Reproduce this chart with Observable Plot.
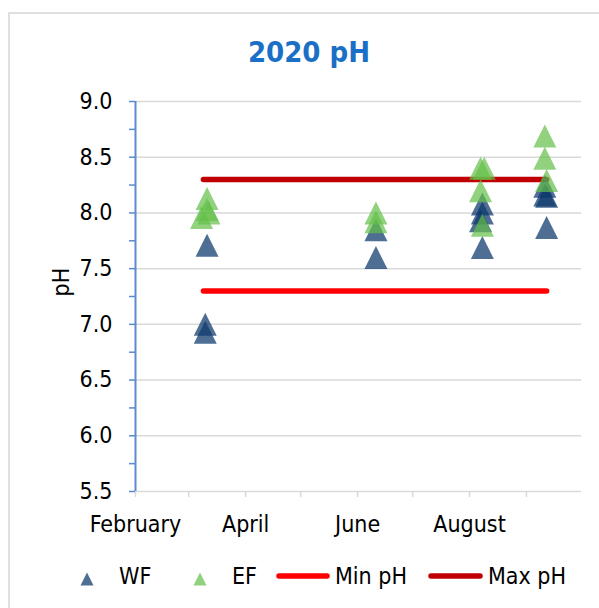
<!DOCTYPE html>
<html>
<head>
<meta charset="utf-8">
<script src="https://cdn.jsdelivr.net/npm/d3@7"></script>
<script src="https://cdn.jsdelivr.net/npm/@observablehq/plot@0.6"></script>
<style>
  html, body { margin: 0; padding: 0; background: #fff; }
  svg { display: block; }
</style>
</head>
<body>
<div id="chart"></div>
<script>
// ---- data ----
const wfDates  = ["2020-03-11","2020-03-10","2020-03-10","2020-06-11","2020-06-11","2020-08-08","2020-08-08","2020-08-07","2020-08-08","2020-09-11","2020-09-11","2020-09-12","2020-09-12"];
const wfValues = [7.71, 7.00, 6.93, 7.85, 7.60, 8.08, 8.00, 7.93, 7.69, 8.24, 8.16, 8.15, 7.87];
const efDates  = ["2020-03-08","2020-03-11","2020-03-11","2020-03-12","2020-06-11","2020-06-11","2020-08-07","2020-08-09","2020-08-07","2020-08-08","2020-09-11","2020-09-11","2020-09-12"];
const efValues = [7.96, 8.13, 8.03, 8.00, 8.00, 7.92, 8.40, 8.40, 8.20, 7.89, 8.69, 8.49, 8.29];
const limitDates = ["2020-03-09", "2020-09-12"];
const minPH = [7.3, 7.3];
const maxPH = [8.3, 8.3];
const yTicks = [5.5, 6.0, 6.5, 7.0, 7.5, 8.0, 8.5, 9.0];
const yMinorTicks = [5.5, 5.75, 6.0, 6.25, 6.5, 6.75, 7.0, 7.25, 7.5, 7.75, 8.0, 8.25, 8.5, 8.75, 9.0];
const monthTicks = ["2020-02-01","2020-03-01","2020-04-01","2020-05-01","2020-06-01","2020-07-01","2020-08-01","2020-09-01"];
const labelDates = ["2020-02-01","2020-04-01","2020-06-01","2020-08-01"];
const labelTexts = ["February","April","June","August"];
const xDomain = ["2020-02-01", "2020-10-01"];
const seriesNames = ["WF", "EF", "Min pH", "Max pH"];
const titleText = "2020 pH";
const yLabel = "pH";

// ---- styling ----
const FONT = "'DejaVu Sans Condensed', 'DejaVu Sans', sans-serif";
const FS = 23;
const WF_COLOR = "#0e386c", WF_OPACITY = 0.73;
const EF_COLOR = "#64bf48", EF_OPACITY = 0.7;
const MIN_COLOR = "#ff0000", MAX_COLOR = "#c00000";
const AXIS_BLUE = "#5b8bd0", GRID = "#d9d9d9";

const triangle = {
  draw(context, size) {
    const h = Math.sqrt(size / Math.PI);
    context.moveTo(0, -h);
    context.lineTo(h, h);
    context.lineTo(-h, h);
    context.closePath();
  }
};

const wf = wfDates.map((d, i) => ({date: new Date(d), value: wfValues[i]}));
const ef = efDates.map((d, i) => ({date: new Date(d), value: efValues[i]}));
const limits = limitDates.map((d, i) => ({date: new Date(d), min: minPH[i], max: maxPH[i]}));
const labelMap = new Map(labelDates.map((d, i) => [+new Date(d), labelTexts[i]]));

const chart = Plot.plot({
  width: 599,
  height: 608,
  marginLeft: 135,
  marginRight: 18,
  marginTop: 101,
  marginBottom: 117,
  style: {fontFamily: FONT, fontSize: FS + "px", background: "#fff", color: "#000", overflow: "visible"},
  x: {type: "utc", domain: xDomain.map(d => new Date(d))},
  y: {domain: [5.5, 9]},
  marks: [
    Plot.gridY(yTicks, {stroke: GRID, strokeOpacity: 1, strokeWidth: 1.5}),
    Plot.axisX(monthTicks.map(d => new Date(d)), {tickSize: 6, stroke: GRID, strokeWidth: 1.5, tickFormat: () => "", label: null}),
    Plot.axisX(labelDates.map(d => new Date(d)), {tickSize: 0, tickPadding: 24, tickFormat: d => labelMap.get(+d), label: null, fontSize: FS, fill: "#000"}),
    Plot.axisY(yMinorTicks, {tickSize: 6, stroke: AXIS_BLUE, strokeWidth: 1.5, tickFormat: () => "", label: null}),
    Plot.axisY(yTicks, {tickSize: 0, tickPadding: 23, tickFormat: d3.format(".1f"), label: null, fontSize: FS, fill: "#000"}),
    Plot.ruleX([new Date(xDomain[0])], {stroke: AXIS_BLUE, strokeWidth: 2}),
    Plot.text([yLabel], {frameAnchor: "left", dx: -74, rotate: -90, fontSize: FS, fill: "#000"}),
    Plot.line(limits, {x: "date", y: "min", stroke: MIN_COLOR, strokeWidth: 5.5, strokeLinecap: "round"}),
    Plot.line(limits, {x: "date", y: "max", stroke: MAX_COLOR, strokeWidth: 5.5, strokeLinecap: "round"}),
    Plot.dot(wf, {x: "date", y: "value", symbol: triangle, r: 11.5, fill: WF_COLOR, fillOpacity: WF_OPACITY, stroke: "none"}),
    Plot.dot(ef, {x: "date", y: "value", symbol: triangle, r: 11.5, fill: EF_COLOR, fillOpacity: EF_OPACITY, stroke: "none"})
  ]
});

const svg = d3.select(chart);
// outer chart-area border
svg.insert("rect", ":first-child")
  .attr("x", 9).attr("y", 13).attr("width", 640).attr("height", 640)
  .attr("fill", "none").attr("stroke", GRID).attr("stroke-width", 1.6);

// title
svg.append("text")
  .attr("x", 309).attr("y", 52).attr("dy", "0.36em")
  .attr("text-anchor", "middle")
  .attr("font-family", FONT).attr("font-size", 29).attr("font-weight", "bold")
  .attr("fill", "#1a6fc6")
  .text(titleText);

// legend
const lg = svg.append("g").attr("font-family", FONT).attr("font-size", FS)
  .attr("fill", "#000").attr("text-anchor", "start");
const ly = 576;
const legendTri = d3.symbol(triangle, 6.5 * 6.5 * Math.PI)();
lg.append("path").attr("d", legendTri).attr("transform", `translate(87,${ly + 3})`).attr("fill", WF_COLOR).attr("fill-opacity", WF_OPACITY);
lg.append("text").attr("x", 119).attr("y", ly).attr("dy", "0.36em").text(seriesNames[0]);
lg.append("path").attr("d", legendTri).attr("transform", `translate(200,${ly + 3})`).attr("fill", EF_COLOR).attr("fill-opacity", EF_OPACITY);
lg.append("text").attr("x", 232).attr("y", ly).attr("dy", "0.36em").text(seriesNames[1]);
lg.append("line").attr("x1", 279).attr("x2", 327).attr("y1", ly).attr("y2", ly)
  .attr("stroke", MIN_COLOR).attr("stroke-width", 5.5).attr("stroke-linecap", "round");
lg.append("text").attr("x", 335).attr("y", ly).attr("dy", "0.36em").text(seriesNames[2]);
lg.append("line").attr("x1", 431).attr("x2", 480).attr("y1", ly).attr("y2", ly)
  .attr("stroke", MAX_COLOR).attr("stroke-width", 5.5).attr("stroke-linecap", "round");
lg.append("text").attr("x", 488).attr("y", ly).attr("dy", "0.36em").text(seriesNames[3]);

document.getElementById("chart").append(chart);
</script>
</body>
</html>
